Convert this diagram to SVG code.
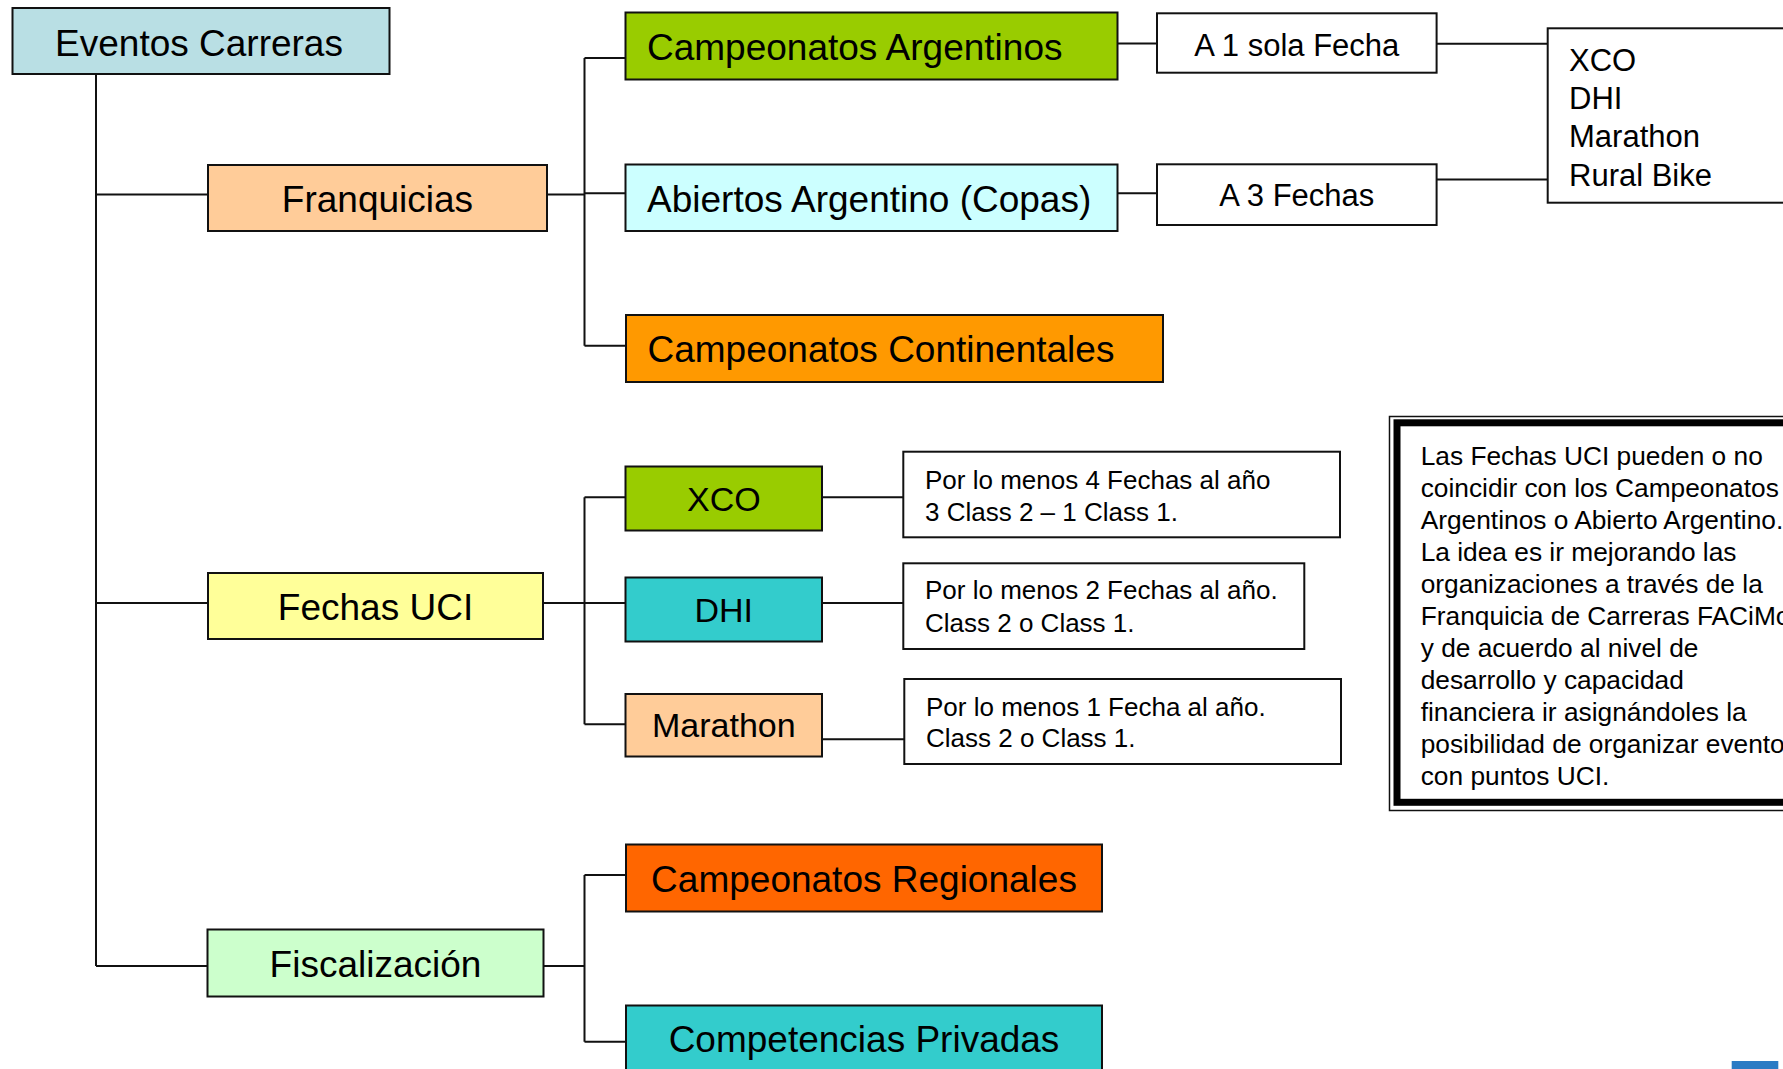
<svg xmlns="http://www.w3.org/2000/svg" width="1783" height="1069" viewBox="0 0 1783 1069">
<style>
.b{stroke:#111;stroke-width:2}
.w{fill:#fff}
.t{font-family:"Liberation Sans",Arial,sans-serif;fill:#000}
.L{font-size:37px}
.M{font-size:34px}
.S{font-size:31px}
.X{font-size:26px}
.N{font-size:26.3px}
.c{text-anchor:middle}
.k{fill:none;stroke:#111;stroke-width:2}
</style>
<rect width="1783" height="1069" fill="#fff"/>
<g id="connectors" class="k">
<path d="M96 74V966M96 194.5H208M96 603H208M96 966H207.5"/>
<path d="M547 194.5H584.5M584.5 58V345.7M584.5 58H625.5M584.5 193.3H625.5M584.5 345.7H626"/>
<path d="M543 603H584.5M584.5 497.3V724.3M584.5 497.3H625.5M584.5 603H625.5M584.5 724.3H625.5"/>
<path d="M543.5 966H584.5M584.5 875V1041.7M584.5 875H626M584.5 1041.7H626"/>
<path d="M1117.5 43.5H1157M1117.5 193.3H1157M1436.6 43.7H1547.7M1436.6 179.5H1547.7"/>
<path d="M822 497.3H903.3M822 603H903.3M822 739.3H904.3"/>
</g>
<g id="eventos"><rect class="b" x="12.5" y="8" width="377" height="66" fill="#B9DFE4"/><text class="t L c" x="199" y="55.5">Eventos Carreras</text></g>
<g id="franquicias"><rect class="b" x="208" y="165" width="339" height="66" fill="#FFCC99"/><text class="t L c" x="377.5" y="211.5">Franquicias</text></g>
<g id="fechas-uci"><rect class="b" x="208" y="573" width="335" height="66" fill="#FFFF99"/><text class="t L c" x="375.5" y="619.5">Fechas UCI</text></g>
<g id="fiscalizacion"><rect class="b" x="207.5" y="929.5" width="336" height="67" fill="#CCFFCC"/><text class="t L c" x="375.5" y="977">Fiscalización</text></g>
<g id="camp-arg"><rect class="b" x="625.5" y="12.5" width="492" height="67" fill="#99CC00"/><text class="t L" x="647" y="59.5">Campeonatos Argentinos</text></g>
<g id="abiertos"><rect class="b" x="625.5" y="164.5" width="492" height="66.5" fill="#CCFFFF"/><text class="t L" x="647" y="211.5">Abiertos Argentino (Copas)</text></g>
<g id="continentales"><rect class="b" x="626" y="315" width="537" height="67" fill="#FF9900"/><text class="t L" x="647.5" y="362">Campeonatos Continentales</text></g>
<g id="xco"><rect class="b" x="625.5" y="466.5" width="196.5" height="64" fill="#99CC00"/><text class="t M c" x="723.8" y="510.7">XCO</text></g>
<g id="dhi"><rect class="b" x="625.5" y="577.5" width="196.5" height="64" fill="#33CCCC"/><text class="t M c" x="723.8" y="622.3">DHI</text></g>
<g id="marathon"><rect class="b" x="625.5" y="694" width="196.5" height="62.5" fill="#FFCC99"/><text class="t M c" x="723.8" y="736.7">Marathon</text></g>
<g id="regionales"><rect class="b" x="626" y="844.5" width="476" height="67" fill="#FF6600"/><text class="t L c" x="864" y="891.7">Campeonatos Regionales</text></g>
<g id="privadas"><rect class="b" x="626" y="1005.5" width="476" height="80" fill="#33CCCC"/><text class="t L c" x="864" y="1051.7">Competencias Privadas</text></g>
<g id="a1"><rect class="b w" x="1157" y="13.3" width="279.6" height="59.4"/><text class="t S c" x="1296.8" y="56">A 1 sola Fecha</text></g>
<g id="a3"><rect class="b w" x="1157" y="164.3" width="279.6" height="60.7"/><text class="t S c" x="1296.8" y="206">A 3 Fechas</text></g>
<g id="disciplinas"><rect class="b w" x="1547.7" y="28.3" width="260" height="174.4"/><text class="t S" x="1569" y="70.7">XCO</text><text class="t S" x="1569" y="109">DHI</text><text class="t S" x="1569" y="147.3">Marathon</text><text class="t S" x="1569" y="185.6">Rural Bike</text></g>
<g id="xco-req"><rect class="b w" x="903.3" y="451.7" width="436.7" height="85.6"/><text class="t X" x="925" y="489">Por lo menos 4 Fechas al año</text><text class="t X" x="925" y="521">3 Class 2 – 1 Class 1.</text></g>
<g id="dhi-req"><rect class="b w" x="903.3" y="563.3" width="401" height="85.7"/><text class="t X" x="925" y="599.3">Por lo menos 2 Fechas al año.</text><text class="t X" x="925" y="631.7">Class 2 o Class 1.</text></g>
<g id="marathon-req"><rect class="b w" x="904.3" y="679" width="436.7" height="85"/><text class="t X" x="926" y="716">Por lo menos 1 Fecha al año.</text><text class="t X" x="926" y="746.7">Class 2 o Class 1.</text></g>
<g id="nota">
<rect x="1389.5" y="416.5" width="420" height="394" fill="#fff" stroke="#111" stroke-width="1.5"/>
<rect x="1397" y="422.8" width="420" height="379.5" fill="none" stroke="#000" stroke-width="7"/>
<text class="t N" x="1420.7" y="464.5">Las Fechas UCI pueden o no</text>
<text class="t N" x="1420.7" y="496.5">coincidir con los Campeonatos</text>
<text class="t N" x="1420.7" y="528.5">Argentinos o Abierto Argentino.</text>
<text class="t N" x="1420.7" y="560.5">La idea es ir mejorando las</text>
<text class="t N" x="1420.7" y="592.5">organizaciones a través de la</text>
<text class="t N" x="1420.7" y="624.5">Franquicia de Carreras FACiMo</text>
<text class="t N" x="1420.7" y="656.5">y de acuerdo al nivel de</text>
<text class="t N" x="1420.7" y="688.5">desarrollo y capacidad</text>
<text class="t N" x="1420.7" y="720.5">financiera ir asignándoles la</text>
<text class="t N" x="1420.7" y="752.5">posibilidad de organizar eventos</text>
<text class="t N" x="1420.7" y="784.5">con puntos UCI.</text>
</g>
<rect x="1731.7" y="1061" width="46.6" height="10" fill="#2B7BC4"/>
</svg>
